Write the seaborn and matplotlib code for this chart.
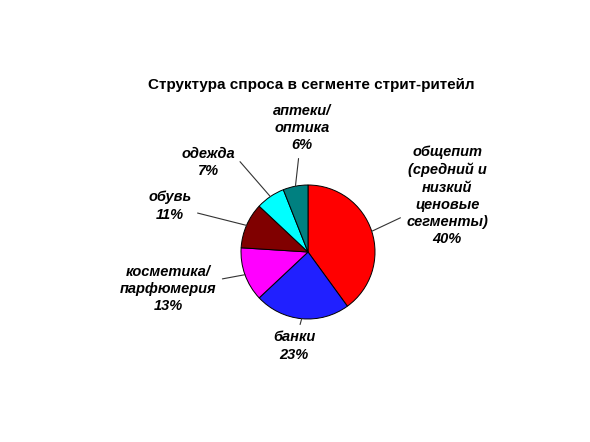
import numpy as np
import matplotlib
matplotlib.use("Agg")
import matplotlib.pyplot as plt
import seaborn as sns

# data
categories = ["общепит\n(средний и\nнизкий\nценовые\nсегменты)", "банки",
              "косметика/\nпарфюмерия", "обувь", "одежда", "аптеки/\nоптика"]
shares = [40, 23, 13, 11, 7, 6]
colors = ["#FF0000", "#2020FF", "#FF00FF", "#800000", "#00FFFF", "#008080"]

# label placement (distance in radii, angle tweak in degrees, leader start on text box)
label_dist = [2.24, 1.42, 2.16, 2.17, 2.0, 1.85]
label_turn = [4, -3, -5, 5, 14, -8]
label_rel = [(0.5, 0.5), (0.5, 0.5), (0.5, 0.5), (0.5, 0.5), (1.0, 0.72), (0.5, 0.5)]

sns.set_theme(style="white")
plt.rcParams["font.family"] = ["Liberation Sans", "DejaVu Sans"]
plt.rcParams["text.color"] = "black"

fig = plt.figure(figsize=(5.9, 4.42), dpi=100)
ax = fig.add_axes([0, 0, 1, 1])

wedges, _ = ax.pie(shares, colors=colors, startangle=90, counterclock=False,
                   radius=1, wedgeprops=dict(edgecolor="black", linewidth=0.7))

for w, cat, val, d, t, rp in zip(wedges, categories, shares, label_dist, label_turn, label_rel):
    mid = np.deg2rad((w.theta1 + w.theta2) / 2)
    lab = mid + np.deg2rad(t)
    ax.annotate(f"{cat}\n{val}%",
                xy=(np.cos(mid), np.sin(mid)),
                xytext=(d * np.cos(lab), d * np.sin(lab)),
                ha="center", va="center", fontsize=10.5, color="black",
                fontweight="bold", fontstyle="italic",
                linespacing=1.3,
                arrowprops=dict(arrowstyle="-", color="#333333", lw=0.8,
                                shrinkA=2, shrinkB=0, relpos=rp))

ax.set_xlim(-308 / 67, (590 - 308) / 67)
ax.set_ylim(-(442 - 252) / 67, 252 / 67)
ax.set_aspect("equal")
ax.axis("off")

fig.text(0.527, 0.808, "Структура спроса в сегменте стрит-ритейл",
         ha="center", va="center", fontsize=11, fontweight="bold", color="black")

fig.savefig("out.png", dpi=100, facecolor="white")
